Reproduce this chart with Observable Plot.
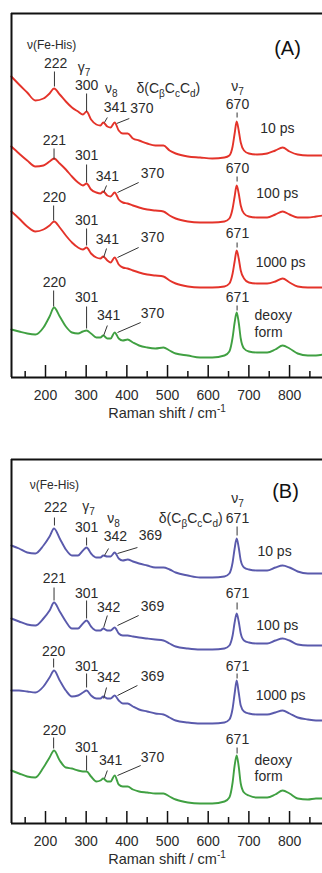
<!DOCTYPE html>
<html><head><meta charset="utf-8">
<script src="https://cdn.jsdelivr.net/npm/d3@7"></script>
<script src="https://cdn.jsdelivr.net/npm/@observablehq/plot@0.6"></script>
<style>
html,body{margin:0;padding:0;background:#fff;}
body{width:322px;height:873px;overflow:hidden;font-family:"Liberation Sans",Arial,Helvetica,sans-serif;}
svg{display:block;}
</style></head>
<body><div id="chart"></div>
<script>
// ---- data (Raman shift / cm-1, offset intensity, arbitrary units) ----
const wavenumbers = [116,135,155,175,195,210,221,235,250,265, 280,292,301,312,325,335,342,352,360,370,
  380,390,402,415,430,450,470,490,505,520, 550,580,610,640,652,660,665,670,675,680,
  688,700,720,745,765,783,800,820,845,865, 882];

const a10ps = [301,293,285,277,279,284,289,283,276,270, 266,263,266,258,253,252,255,251,250,255,
  247,244,244,239,237,234,232,232,227,224, 221,220,219,220,222,231,244,256,247,235,
  227,224,223,224,227,230,226,223,222,222, 222];
const a100ps = [231,224,217,211,212,216,219,214,208,201, 195,192,194,188,185,184,186,182,181,185,
  178,175,174,172,170,168,167,166,162,159, 156,155,155,156,159,169,181,192,184,172,
  164,161,160,160,163,166,163,160,160,161, 162];
const a1000ps = [166,159,151,146,148,152,156,150,142,135, 130,128,130,124,120,119,121,117,115,120,
  113,110,109,107,105,103,102,101,97,94, 91,90,90,91,94,104,116,127,119,107,
  99,95,94,94,96,99,95,91,90,90, 90];
const aDeoxy = [48,46,44,43,50,61,70,61,51,45, 44,46,47,44,40,40,42,39,39,45,
  39,37,38,35,32,30,29,30,27,24, 22,20,20,22,26,40,55,65,55,39,
  29,26,25,25,28,32,29,24,22,22, 23];

const b10ps = [278,275,271,270,278,287,295,285,274,268, 268,273,276,270,266,266,268,267,267,271,
  265,263,264,262,260,258,256,256,254,251, 248,246,246,247,250,261,275,285,276,263,
  256,254,253,253,256,258,256,252,250,250, 250];
const b100ps = [205,202,199,198,205,213,221,212,202,195, 195,200,203,197,193,193,195,193,193,196,
  190,188,188,187,186,185,184,183,180,177, 175,174,174,175,178,188,201,210,202,190,
  183,181,180,180,183,185,183,179,178,178, 178];
const b1000ps = [133,133,132,131,137,146,153,143,133,127, 128,131,133,128,125,125,127,125,125,128,
  123,120,120,117,114,112,110,109,106,103, 101,100,100,101,104,115,130,143,131,118,
  112,110,109,109,111,113,110,106,104,103, 103];
const bDeoxy = [53,50,47,46,56,66,73,63,56,55, 53,52,52,47,42,43,45,42,42,48,
  39,37,37,34,32,31,30,30,27,24, 21,20,20,22,26,41,58,68,57,40,
  31,28,26,26,29,33,30,25,24,25, 25];

const majorTicks = [200,300,400,500,600,700,800];
const minorTicks = [150,250,350,450,550,650,750,850];
const xTitle = "Raman shift / cm^{-1}";

// labels: [text, x, y]
const labelsA = [
  ["222",225,314],["γ_7",295,310],["300",301,292],["ν_8",362,289],["δ(C_βC_cC_d)",502,289],
  ["341",372,270],["370",437,269],["ν_7",672,291],["670",672,273],["10 ps",770,249],
  ["221",222,237],["301",301,222],["341",352,201],["370",463,204],["670",672,209],["100 ps",770,184],
  ["220",222,180],["301",301,157],["341",352,138],["370",463,140],["671",672,144],["1000 ps",778,115],
  ["220",222,95],["301",301,80],["341",355,62],["370",463,64],["671",672,80]
];
const headA = [["ν(Fe-His)",215,332]];
const sideA = [["deoxy",714,62],["form",714,45]];
const panelA = [["(A)",795,329]];
// leader/marker segments: [x1,y1,x2,y2]
const segsA = [
  [222,306,222,291],[301,284,301,266],[671,265,671,260],[352,260,345,255],[406,259,375,254],
  [221,229,221,218],[301,213,301,195],[671,201,671,196],[350,192,343,185],[429,195,377,185],
  [220,172,220,157],[301,149,301,132],[671,135,671,130],[350,129,343,120],[429,130,377,120],
  [220,87,220,71],[301,71,301,49],[671,72,671,67],[352,52,343,42],[434,55,377,45]
];

const labelsB = [
  ["222",225,316],["γ_7",306,317],["ν_8",367,305],["δ(C_βC_cC_d)",557,305],["ν_7",672,325],["671",672,305],
  ["301",301,296],["342",372,287],["369",458,288],["10 ps",763,272],
  ["221",222,245],["301",301,230],["342",355,216],["369",463,217],["671",672,230],["100 ps",770,198],
  ["220",220,172],["301",301,157],["342",355,146],["369",463,147],["671",672,157],["1000 ps",778,128],
  ["220",222,93],["301",301,76],["341",360,63],["370",463,66],["671",672,84]
];
const headB = [["ν(Fe-His)",222,338]];
const sideB = [["deoxy",714,63],["form",714,47]];
const panelB = [["(B)",790,332]];
const segsB = [
  [222,306,222,298],[301,286,301,278],[671,297,671,288],[355,275,345,268],[426,276,377,270],
  [221,236,221,223],[301,223,301,205],[671,221,671,214],[352,208,343,196],[429,208,377,198],
  [220,165,220,156],[301,150,301,136],[671,150,671,145],[350,136,343,125],[426,138,377,128],
  [220,86,220,75],[301,68,301,53],[671,76,671,70],[352,53,345,45],[434,58,377,48]
];

const red = "#e4332a", green = "#40a042", blue = "#5a5aac";
const ink = "#2b2b2b";
const xDomain = [116.4, 881];
const yDomain = [0, 364];

function panel(opts) {
  const {height, marginTop, marginBottom, traces, labels, head, side, tag, segs} = opts;
  const inner = height - marginTop - marginBottom;
  const marks = [];
  for (const [vals, color] of traces) {
    marks.push(Plot.line(vals, {x: wavenumbers, y: d => d, stroke: color, strokeWidth: 1.9, curve: "monotone-x"}));
  }
  marks.push(
    Plot.link(segs, {x1: d => d[0], y1: d => d[1], x2: d => d[2], y2: d => d[3], stroke: "#333", strokeWidth: 1}),
    Plot.text(labels, {x: d => d[1], y: d => d[2], text: d => d[0], fontSize: 14, fill: ink}),
    Plot.text(head, {x: d => d[1], y: d => d[2], text: d => d[0], fontSize: 12, fill: ink}),
    Plot.text(side, {x: d => d[1], y: d => d[2], text: d => d[0], fontSize: 14, fill: ink, textAnchor: "start"}),
    Plot.text(tag, {x: d => d[1], y: d => d[2], text: d => d[0], fontSize: 20, fill: "#111"}),
    Plot.ruleX(minorTicks, {x: d => d, stroke: "#111", strokeWidth: 1.5, insetTop: inner - 6}),
    Plot.ruleX(majorTicks, {x: d => d, stroke: "#111", strokeWidth: 1.5, insetTop: inner - 12}),
    Plot.ruleY([yDomain[0]], {stroke: "#111", strokeWidth: 2}),
    Plot.ruleY([yDomain[1]], {stroke: "#111", strokeWidth: 2}),
    Plot.ruleX([xDomain[0]], {stroke: "#111", strokeWidth: 2}),
    Plot.axisX({ticks: majorTicks, tickSize: 0, tickPadding: 13, tickFormat: d => String(d), fontSize: 14, label: null}),
    Plot.text([xTitle], {frameAnchor: "bottom", dy: 40, text: d => d, fontSize: 14.5, fill: ink})
  );
  return Plot.plot({
    width: 322, height, marginTop, marginBottom, marginLeft: 11, marginRight: 0,
    x: {domain: xDomain},
    y: {domain: yDomain, axis: null},
    style: {fontFamily: '"Liberation Sans", Arial, sans-serif', fontSize: "14px", color: ink, background: "#fff", overflow: "visible"},
    marks
  });
}

function richText(svg) {
  svg.querySelectorAll("text").forEach(t => {
    const s = t.textContent;
    if (!/[_^]/.test(s)) return;
    const parts = [];
    let i = 0, buf = "";
    while (i < s.length) {
      const c = s[i];
      if (c === "_" || c === "^") {
        if (buf) { parts.push({t: buf, k: 0}); buf = ""; }
        let content;
        if (s[i + 1] === "{") { const j = s.indexOf("}", i); content = s.slice(i + 2, j); i = j + 1; }
        else { content = s[i + 1]; i += 2; }
        parts.push({t: content, k: c === "_" ? 1 : -1});
      } else { buf += c; i++; }
    }
    if (buf) parts.push({t: buf, k: 0});
    while (t.firstChild) t.removeChild(t.firstChild);
    let shift = 0;
    for (const p of parts) {
      const ts = document.createElementNS("http://www.w3.org/2000/svg", "tspan");
      const target = p.k === 1 ? 4 : p.k === -1 ? -6 : 0;
      const dy = target - shift;
      if (dy) ts.setAttribute("dy", dy);
      if (p.k) ts.setAttribute("font-size", "10");
      ts.textContent = p.t;
      t.appendChild(ts);
      shift = target;
    }
  });
}

const chartA = panel({height: 435, marginTop: 13, marginBottom: 58,
  traces: [[a10ps, red], [a100ps, red], [a1000ps, red], [aDeoxy, green]],
  labels: labelsA, head: headA, side: sideA, tag: panelA, segs: segsA});
const chartB = panel({height: 438, marginTop: 24, marginBottom: 50,
  traces: [[b10ps, blue], [b100ps, blue], [b1000ps, blue], [bDeoxy, green]],
  labels: labelsB, head: headB, side: sideB, tag: panelB, segs: segsB});
richText(chartA); richText(chartB);
const root = document.getElementById("chart");
root.appendChild(chartA);
root.appendChild(chartB);
</script>
</body></html>
